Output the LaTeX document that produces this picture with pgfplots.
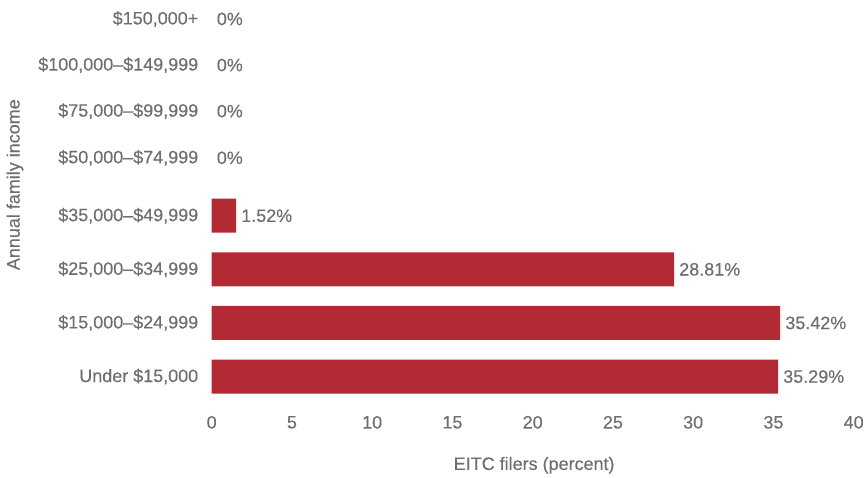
\documentclass[border=0pt]{standalone}
\usepackage{pgfplots}
\pgfplotsset{compat=1.18}
\usepackage{fontspec}
\setmainfont[FakeBold=0.3]{Liberation Sans}
\definecolor{barred}{HTML}{B22B34}
\definecolor{txtgray}{HTML}{6D6E71}
\begin{document}
\begin{tikzpicture}
\begin{axis}[
  scale only axis,
  width=643pt, height=402.75pt,
  xbar, bar width=34pt, bar shift=0pt,
  xmin=0, xmax=40, ymin=-0.5, ymax=7.0,
  xtick={0,5,...,40},
  ytick={0,1,2,3,4.08,4.95,5.81,6.67},
  yticklabels={{Under \$15,000},{\$15,000–\$24,999},{\$25,000–\$34,999},{\$35,000–\$49,999},{\$50,000–\$74,999},{\$75,000–\$99,999},{\$100,000–\$149,999},{\$150,000+}},
  axis line style={draw=none},
  tick style={draw=none},
  /pgf/number format/assume math mode=true,
  every tick label/.append style={font=\fontsize{18}{20}\selectfont, text=txtgray},
  xticklabel style={anchor=center, yshift=-19pt},
  yticklabel style={anchor=east, inner sep=0pt, xshift=-9pt},
  xlabel={EITC filers (percent)},
  ylabel={Annual family income},
  xlabel style={font=\fontsize{18}{20}\selectfont, text=txtgray, at={(axis description cs:0.5023,-0.154)}, anchor=center},
  ylabel style={font=\fontsize{18}{20}\selectfont, text=txtgray, at={(axis description cs:-0.3064,0.5438)}, anchor=center},
  point meta=explicit symbolic,
  nodes near coords,
  every node near coord/.append style={font=\fontsize{18}{20}\selectfont, text=txtgray, anchor=west, inner sep=0pt, xshift=5pt},
  clip=false,
]
\addplot[fill=barred, draw=none, bar shift=0pt] coordinates {
  (35.29,0) [35.29\%]
  (35.42,1) [35.42\%]
  (28.81,2) [28.81\%]
  (1.52,3) [1.52\%]
};
\addplot[fill=none, draw=none, bar shift=0pt] coordinates {
  (0,4.08) [0\%]
  (0,4.95) [0\%]
  (0,5.81) [0\%]
  (0,6.67) [0\%]
};
\end{axis}
\path[use as bounding box] (-212pt,-74pt) rectangle (655pt,404pt);
\end{tikzpicture}
\end{document}
